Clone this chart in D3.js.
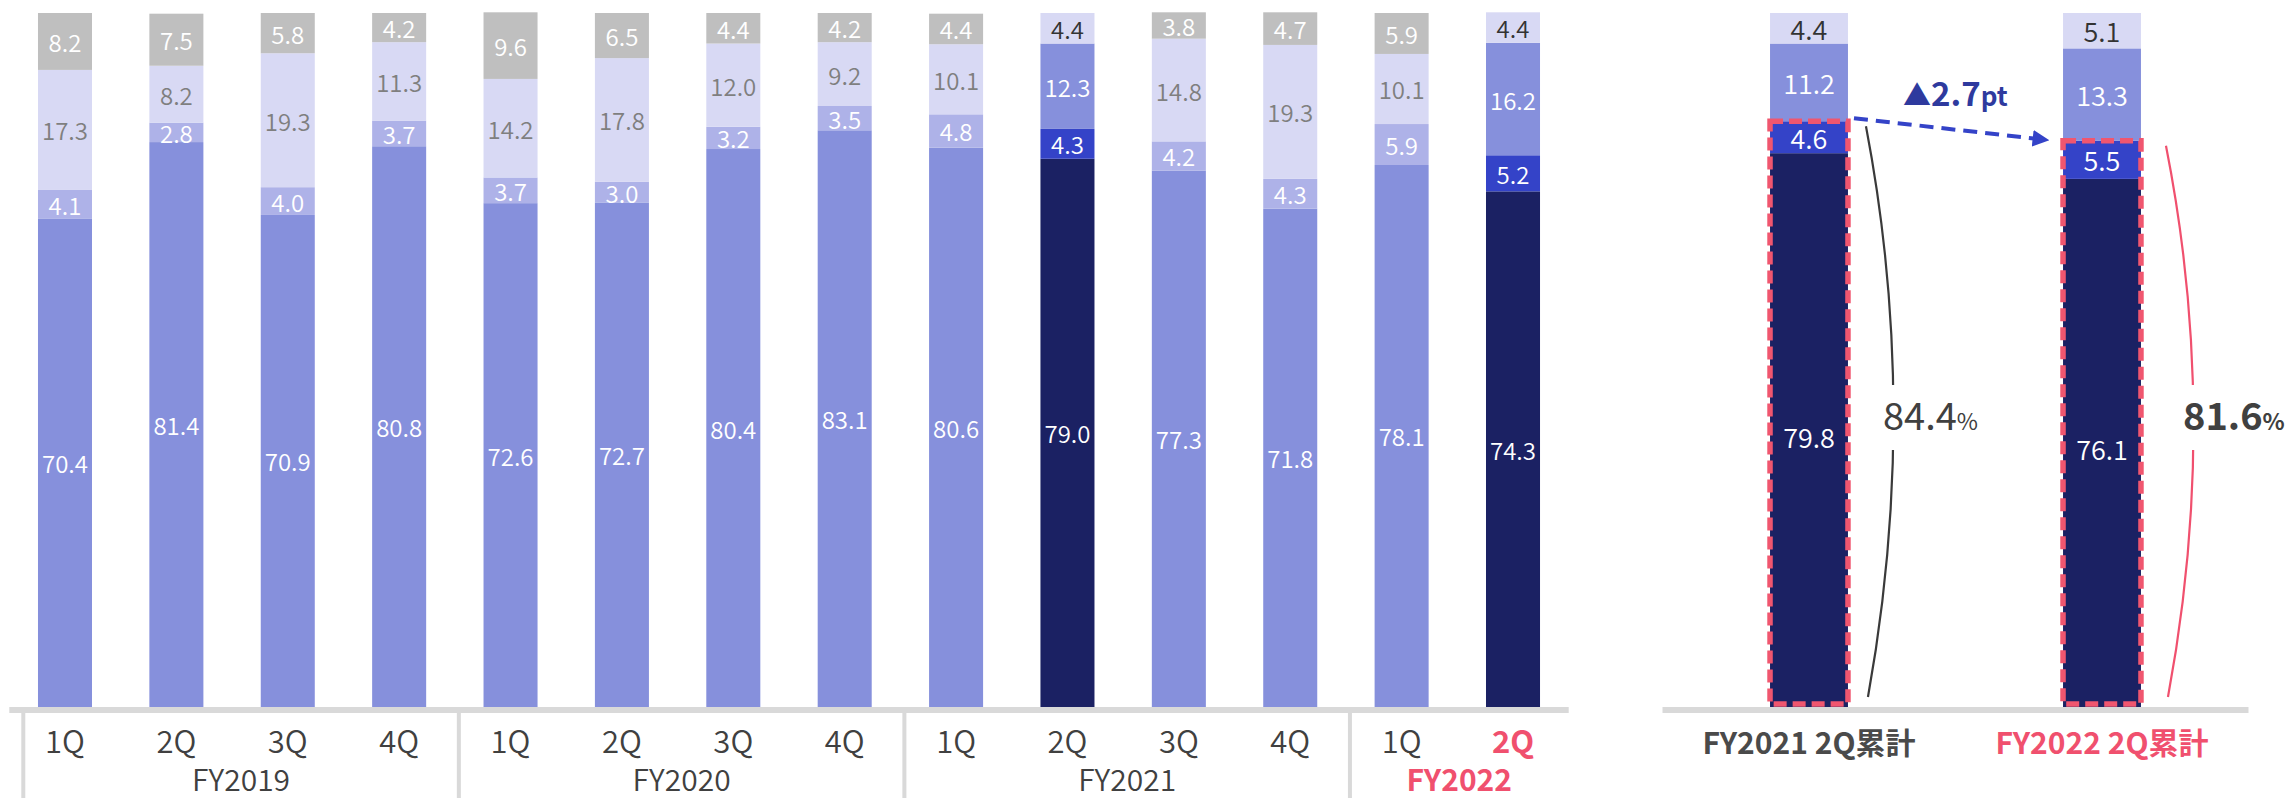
<!DOCTYPE html>
<html>
<head>
<meta charset="utf-8">
<script src="https://cdn.jsdelivr.net/npm/d3@7"></script>
<style>
  html, body { margin: 0; padding: 0; background: #ffffff; }
  svg { display: block; }
  text { font-family: "Noto Sans CJK JP", "Noto Sans", sans-serif; }
</style>
</head>
<body>
<svg id="chart" width="2285" height="798"></svg>
<script>
// ---------- data ----------
const quarters = ["1Q","2Q","3Q","4Q","1Q","2Q","3Q","4Q","1Q","2Q","3Q","4Q","1Q","2Q"];
const fiscalYears = ["FY2019","FY2020","FY2021","FY2022"];
const yearOfBar = [0,0,0,0,1,1,1,1,2,2,2,2,3,3];
const highlightedBars = [9, 13];           // bars drawn in the "cumulative" colour scheme
const currentBar = 13;                     // bar label shown in pink

const seg1 = [70.4,81.4,70.9,80.8,72.6,72.7,80.4,83.1,80.6,79.0,77.3,71.8,78.1,74.3];
const seg2 = [4.1,2.8,4.0,3.7,3.7,3.0,3.2,3.5,4.8,4.3,4.2,4.3,5.9,5.2];
const seg3 = [17.3,8.2,19.3,11.3,14.2,17.8,12.0,9.2,10.1,12.3,14.8,19.3,10.1,16.2];
const seg4 = [8.2,7.5,5.8,4.2,9.6,6.5,4.4,4.2,4.4,4.4,3.8,4.7,5.9,4.4];

const cumLabels = ["FY2021 2Q累計","FY2022 2Q累計"];
const cum1 = [79.8, 76.1];
const cum2 = [4.6, 5.5];
const cum3 = [11.2, 13.3];
const cum4 = [4.4, 5.1];
const cumTotals = ["84.4", "81.6"];
const diffText = "2.7";

// ---------- styles ----------
const normalColors = ["#8690dc", "#aeb2e8", "#d8d9f4", "#bfbfbf"];
const normalText   = ["#ffffff", "#ffffff", "#7f7f7f", "#ffffff"];
const hiColors     = ["#1b2163", "#3443c8", "#8690dc", "#d8d9f4"];
const hiText       = ["#ffffff", "#ffffff", "#ffffff", "#333333"];
const pink = "#f0506e";
const axisGray = "#d9d9d9";
const textDark = "#404040";

const svg = d3.select("#chart");
const keys = ["a","b","c","d"];

const y = d3.scaleLinear().domain([0, 100]).range([707, 13]);

// ---------- left panel ----------
const leftRows = quarters.map((q, i) => ({ i, a: seg1[i], b: seg2[i], c: seg3[i], d: seg4[i] }));
const xL = d3.scaleBand().domain(d3.range(quarters.length))
  .range([9.3, 1568.7]).paddingInner(0.515).paddingOuter(0.2575);

const stackL = d3.stack().keys(keys)(leftRows);

stackL.forEach((layer, k) => {
  const g = svg.append("g");
  layer.forEach((d, i) => {
    const hi = highlightedBars.includes(i);
    g.append("rect")
      .attr("x", xL(i)).attr("width", xL.bandwidth())
      .attr("y", y(d[1])).attr("height", y(d[0]) - y(d[1]))
      .attr("fill", hi ? hiColors[k] : normalColors[k]);
    g.append("text")
      .attr("x", xL(i) + xL.bandwidth() / 2)
      .attr("y", (y(d[0]) + y(d[1])) / 2)
      .attr("text-anchor", "middle").attr("dominant-baseline", "central")
      .attr("font-size", 24).attr("font-weight", 350)
      .attr("fill", hi ? hiText[k] : normalText[k])
      .text(d3.format(".1f")(d[1] - d[0]));
  });
});

// axis line
svg.append("rect").attr("x", xL.range()[0]).attr("y", 707)
  .attr("width", xL.range()[1] - xL.range()[0]).attr("height", 6).attr("fill", axisGray);

// group separators
const groupStarts = fiscalYears.map((fy, g) => yearOfBar.indexOf(g));
const sepX = groupStarts.map((s, g) => g === 0 ? xL.range()[0] + 14
  : (xL(s - 1) + xL.bandwidth() + xL(s)) / 2 + 4);
sepX.forEach(sx => {
  svg.append("rect").attr("x", sx - 2).attr("y", 713).attr("width", 4).attr("height", 85).attr("fill", axisGray);
});

// quarter labels
quarters.forEach((q, i) => {
  svg.append("text")
    .attr("x", xL(i) + xL.bandwidth() / 2).attr("y", 753)
    .attr("text-anchor", "middle").attr("font-size", 31)
    .attr("font-weight", i === currentBar ? 700 : 350)
    .attr("fill", i === currentBar ? pink : textDark)
    .text(q);
});
// fiscal year labels
fiscalYears.forEach((fy, g) => {
  const x0 = sepX[g];
  const x1 = g < fiscalYears.length - 1 ? sepX[g + 1] : xL.range()[1];
  const last = g === fiscalYears.length - 1;
  svg.append("text")
    .attr("x", (x0 + x1) / 2).attr("y", 791)
    .attr("text-anchor", "middle").attr("font-size", 30)
    .attr("font-weight", last ? 700 : 350)
    .attr("fill", last ? pink : textDark)
    .text(fy);
});

// ---------- right panel ----------
const rightRows = cumLabels.map((l, i) => ({ i, a: cum1[i], b: cum2[i], c: cum3[i], d: cum4[i] }));
const xR = d3.scaleBand().domain(d3.range(cumLabels.length))
  .range([1662.5, 2248.5]).paddingInner(0.734).paddingOuter(0.367);
const stackR = d3.stack().keys(keys)(rightRows);

stackR.forEach((layer, k) => {
  const g = svg.append("g");
  layer.forEach((d, i) => {
    g.append("rect")
      .attr("x", xR(i)).attr("width", xR.bandwidth())
      .attr("y", y(d[1])).attr("height", y(d[0]) - y(d[1]))
      .attr("fill", hiColors[k]);
    g.append("text")
      .attr("x", xR(i) + xR.bandwidth() / 2)
      .attr("y", (y(d[0]) + y(d[1])) / 2 + (k === 0 ? 6 : 0))
      .attr("text-anchor", "middle").attr("dominant-baseline", "central")
      .attr("font-size", 27).attr("font-weight", 350)
      .attr("fill", hiText[k])
      .text(d3.format(".1f")(d[1] - d[0]));
  });
});

svg.append("rect").attr("x", xR.range()[0]).attr("y", 707)
  .attr("width", xR.range()[1] - xR.range()[0]).attr("height", 6).attr("fill", axisGray);

cumLabels.forEach((l, i) => {
  svg.append("text")
    .attr("x", xR(i) + xR.bandwidth() / 2).attr("y", 754)
    .attr("text-anchor", "middle").attr("font-size", 30).attr("font-weight", 700)
    .attr("fill", i === cumLabels.length - 1 ? pink : "#4a4a4a")
    .text(l);
});

// dashed highlight rectangles (bottom two segments)
rightRows.forEach((r, i) => {
  const top = y(r.a + r.b);
  svg.append("rect")
    .attr("x", xR(i)).attr("width", xR.bandwidth())
    .attr("y", top).attr("height", y(0) - 3 - top)
    .attr("fill", "none").attr("stroke", "#f0566f")
    .attr("stroke-width", 5.5).attr("stroke-dasharray", "13,6");
});

// brackets with totals
rightRows.forEach((r, i) => {
  const top = y(r.a + r.b);
  const xs = xR(i) + xR.bandwidth() + 18 + i * 7;
  const ye = y(0) - 10;
  const col = i === 0 ? "#3a3a3a" : pink;
  svg.append("path")
    .attr("d", `M${xs},${top + 5} Q${xs + 54},${(top + ye) / 2} ${xs + 2},${ye}`)
    .attr("fill", "none").attr("stroke", col).attr("stroke-width", 2.2);
  svg.append("rect")
    .attr("x", xs - 5).attr("y", 385).attr("width", 45).attr("height", 65).attr("fill", "#ffffff");
  const t = svg.append("text")
    .attr("x", xs + 17).attr("y", 430)
    .attr("fill", "#404040").attr("font-weight", i === 0 ? 400 : 700);
  t.append("tspan").attr("font-size", 38).text(cumTotals[i]);
  t.append("tspan").attr("font-size", 23).text("%");
});

// dashed arrow showing the change
const defs = svg.append("defs");
defs.append("marker").attr("id", "arr").attr("viewBox", "0 0 10 10")
  .attr("refX", 2).attr("refY", 5).attr("markerWidth", 4.2).attr("markerHeight", 4.2)
  .attr("orient", "auto").attr("markerUnits", "strokeWidth")
  .append("path").attr("d", "M0,0 L10,5 L0,10 Z").attr("fill", "#3443c8");

const ax0 = xR(0) + xR.bandwidth() + 6, ay0 = y(cum1[0] + cum2[0]) - 3;
const ax1 = xR(1) - 27, ay1 = y(cum1[1] + cum2[1]) - 2;
svg.append("line")
  .attr("x1", ax0).attr("y1", ay0).attr("x2", ax1).attr("y2", ay1)
  .attr("stroke", "#3443c8").attr("stroke-width", 4).attr("stroke-dasharray", "14,8")
  .attr("marker-end", "url(#arr)");

const dt = svg.append("text").attr("x", 1903).attr("y", 106)
  .attr("fill", "#2e3a9e").attr("font-weight", 700);
dt.append("tspan").attr("font-size", 28).text("▲");
dt.append("tspan").attr("font-size", 33).text(diffText);
dt.append("tspan").attr("font-size", 26).text("pt");
</script>
</body>
</html>
